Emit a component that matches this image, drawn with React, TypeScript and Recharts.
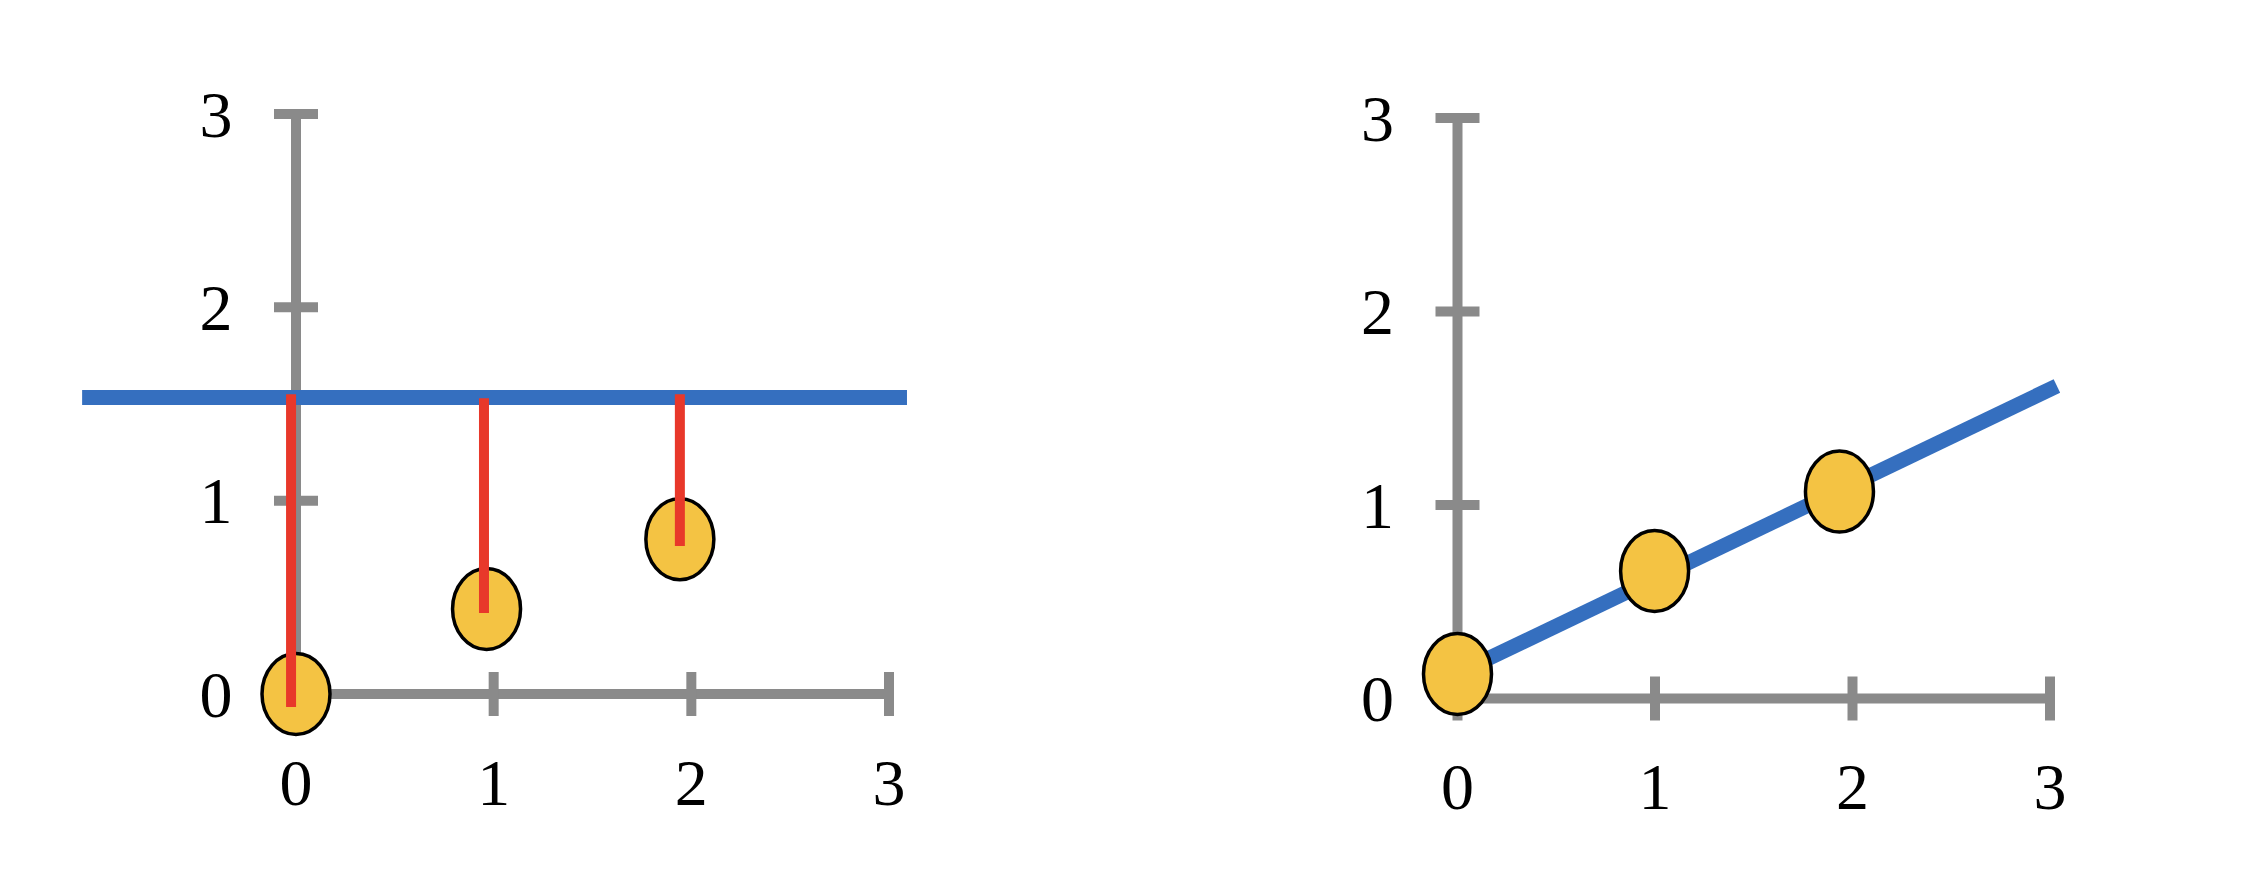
import React from 'react';
import { ComposedChart, XAxis, YAxis, Scatter, ReferenceLine } from 'recharts';

// ---- data ----
const axisTicks = [0, 1, 2, 3];

// left panel: observations, a flat fit and its residuals
const leftPointsX = [0, 0.964, 1.942];
const leftPointsY = [0, 0.44, 0.8];
const leftFitY = 1.534;
const leftFitXRange = [-1.082, 3.091];
const residualX = [-0.025, 0.951, 1.942];
const residualTop = [1.55, 1.53, 1.55];
const residualBottom = [-0.067, 0.419, 0.766];

// right panel: observations and a sloped fit
const rightPointsX = [0, 0.998, 1.934];
const rightPointsY = [0.127, 0.659, 1.07];
const rightFitX = [0, 3.035];
const rightFitY = [0.13, 1.615];

// ---- styles ----
const GRAY = '#8a8a8a';
const BLUE = '#356fbf';
const RED = '#e8382a';
const YELLOW = '#f4c343';
const FONT = '"Liberation Serif", "Times New Roman", serif';
const FONT_SIZE = 66;

const leftData = leftPointsX.map((x, i) => ({ x, y: leftPointsY[i] }));
const rightData = rightPointsX.map((x, i) => ({ x, y: rightPointsY[i] }));

const YTick = (props: any) => {
  const { x, y, payload } = props;
  return (
    <g>
      <line x1={x - 22} x2={x + 22} y1={y} y2={y} stroke={GRAY} strokeWidth={10} />
      <text x={x - 80} y={y} textAnchor="middle" dominantBaseline="central" fontFamily={FONT} fontSize={FONT_SIZE} fill="#000">
        {payload.value}
      </text>
    </g>
  );
};

const XTick = (props: any) => {
  const { x, y, payload } = props;
  return (
    <g>
      <line x1={x} x2={x} y1={y - 22} y2={y + 22} stroke={GRAY} strokeWidth={10} />
      <text x={x} y={y + 88} textAnchor="middle" dominantBaseline="central" fontFamily={FONT} fontSize={FONT_SIZE} fill="#000">
        {payload.value}
      </text>
    </g>
  );
};

const Dot = (props: any) => {
  const { cx, cy } = props;
  return <ellipse cx={cx} cy={cy} rx={34} ry={40.5} fill={YELLOW} stroke="#000" strokeWidth={3.5} />;
};

const axes = (marginKey: string) => [
  <XAxis
    key={'x' + marginKey}
    type="number"
    dataKey="x"
    domain={[0, 3]}
    ticks={axisTicks}
    interval={0}
    height={100}
    tickSize={0}
    tickMargin={0}
    tickLine={false}
    axisLine={{ stroke: GRAY, strokeWidth: 10 }}
    tick={<XTick />}
    zIndex={50}
  />,
  <YAxis
    key={'y' + marginKey}
    type="number"
    dataKey="y"
    domain={[0, 3]}
    ticks={axisTicks}
    interval={0}
    width={200}
    tickSize={0}
    tickMargin={0}
    tickLine={false}
    axisLine={{ stroke: GRAY, strokeWidth: 10 }}
    tick={<YTick />}
    zIndex={50}
  />,
];

export default function App() {
  return (
    <div style={{ position: 'absolute', left: 0, top: 0, width: 2248, height: 872, background: '#fff' }}>
      <div style={{ position: 'absolute', left: 0, top: 0 }}>
        <ComposedChart
          width={1124}
          height={872}
          data={leftData}
          margin={{ top: 114, right: 235, bottom: 78, left: 96 }}
        >
          {axes('L')}
          <ReferenceLine
            segment={[
              { x: leftFitXRange[0], y: leftFitY },
              { x: leftFitXRange[1], y: leftFitY },
            ]}
            stroke={BLUE}
            strokeWidth={15}
            ifOverflow="visible"
            zIndex={100}
          />
          <Scatter data={leftData} dataKey="y" shape={<Dot />} isAnimationActive={false} zIndex={3000} />
          {residualX.map((rx, i) => (
            <ReferenceLine
              key={'r' + i}
              segment={[
                { x: rx, y: residualTop[i] },
                { x: rx, y: residualBottom[i] },
              ]}
              stroke={RED}
              strokeWidth={10}
              ifOverflow="visible"
              zIndex={3100}
            />
          ))}
        </ComposedChart>
      </div>
      <div style={{ position: 'absolute', left: 1124, top: 0 }}>
        <ComposedChart
          width={1124}
          height={872}
          data={rightData}
          margin={{ top: 118, right: 198, bottom: 73.5, left: 133.5 }}
        >
          {axes('R')}
          <ReferenceLine
            segment={[
              { x: rightFitX[0], y: rightFitY[0] },
              { x: rightFitX[1], y: rightFitY[1] },
            ]}
            stroke={BLUE}
            strokeWidth={15}
            ifOverflow="visible"
            zIndex={100}
          />
          <Scatter data={rightData} dataKey="y" shape={<Dot />} isAnimationActive={false} zIndex={3000} />
        </ComposedChart>
      </div>
    </div>
  );
}
